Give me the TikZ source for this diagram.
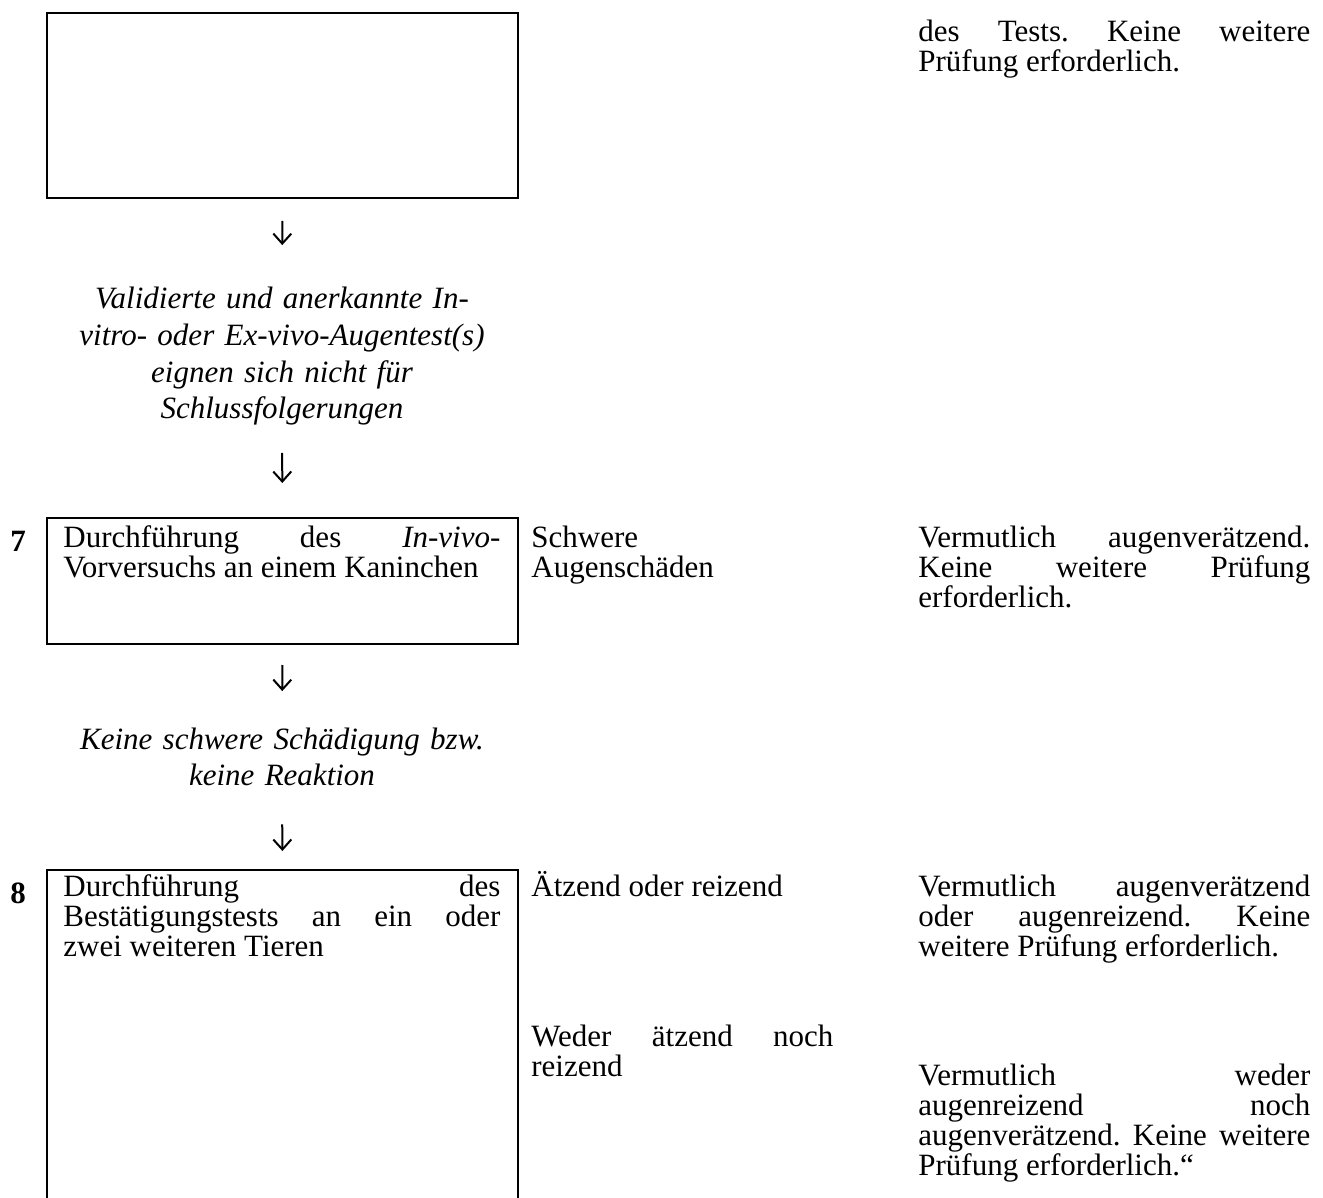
\documentclass[tikz,border=0pt]{standalone}
\usepackage{fontspec}
\setmainfont{Liberation Serif}
\usetikzlibrary{arrows.meta,positioning}
\newcommand{\bodysize}{\fontsize{15.5pt}{15pt}\selectfont}
\newcommand{\notesize}{\fontsize{15.5pt}{18.3pt}\selectfont}
\hyphenpenalty=10000
\exhyphenpenalty=10000
\tolerance=10000
\frenchspacing
\tikzset{
  stepbox/.style={draw, line width=1pt, anchor=north west, inner sep=0pt, minimum width=235.5pt},
  bodytext/.style={anchor=base west, inner sep=0pt, align=justify, font=\bodysize},
  boxtext/.style={bodytext, text width=218.5pt},
  midcol/.style={bodytext, text width=151pt},
  rightcol/.style={bodytext, text width=196pt},
  notetext/.style={anchor=base, inner sep=0pt, text width=240pt, align=center, font=\itshape\notesize},
  numlabel/.style={anchor=base, inner sep=0pt, font=\bodysize\bfseries},
  downarrow/.style={line width=1pt, -{Straight Barb[length=5pt,width=9pt]}}
}
\begin{document}
\begin{tikzpicture}[x=0.5pt, y=-0.5pt]
\useasboundingbox (0,0) rectangle (1323,1198);
% Boxes
\node[stepbox, minimum height=92.5pt] (box1) at (46,12) {};
\node[stepbox, minimum height=63pt] (box7) at (46,517) {};
\node[stepbox, minimum height=175pt] (box8) at (46,869) {};

% Step numbers
\node[numlabel] (n7) at (18,551) {7};
\node[numlabel] (n8) at (18,903) {8};

% Box texts
\node[boxtext] (t7) at (63,547) {Durchführung des \textit{In-vivo}-\linebreak Vorversuchs an einem Kaninchen};
\node[boxtext] (t8) at (63,896) {Durchführung des\linebreak Bestätigungstests an ein oder\linebreak zwei weiteren Tieren};

% Intermediate results
\node[notetext] (valid) at (282,309) {Validierte und anerkannte In-\\vitro- oder Ex-vivo-Augentest(s)\\eignen sich nicht für\\Schlussfolgerungen};
\node[notetext] (nores) at (282,749) {Keine schwere Schädigung bzw.\\keine Reaktion};

% Arrows
\draw[downarrow, shorten <=11pt, shorten >=21pt] (box1.south) -- (valid.north);
\draw[downarrow, shorten <=13.5pt, shorten >=17pt] (valid.south) -- (box7.north);
\draw[downarrow, shorten <=10pt, shorten >=18pt] (box7.south) -- (nores.north);
\draw[downarrow, shorten <=19pt, shorten >=9pt] (nores.south) -- (box8.north);

% Findings
\node[midcol] (s7) at (531,547) {Schwere\\Augenschäden};
\node[midcol] (s8a) at (531,896) {Ätzend oder reizend};
\node[midcol] (s8b) at (531,1046) {Weder ätzend noch\linebreak reizend};

% Conclusions
\node[rightcol] (r0) at (918,42) {des Tests. Keine weitere\linebreak Prüfung erforderlich.};
\node[rightcol] (r7) at (918,547) {Vermutlich augenverätzend.\linebreak Keine weitere Prüfung\linebreak erforderlich.};
\node[rightcol] (r8a) at (918,896) {Vermutlich augenverätzend\linebreak oder augenreizend. Keine\linebreak weitere Prüfung erforderlich.};
\node[rightcol] (r8b) at (918,1085) {Vermutlich weder\linebreak augenreizend noch\linebreak augenverätzend. Keine weitere\linebreak Prüfung erforderlich.“};
\end{tikzpicture}
\end{document}
